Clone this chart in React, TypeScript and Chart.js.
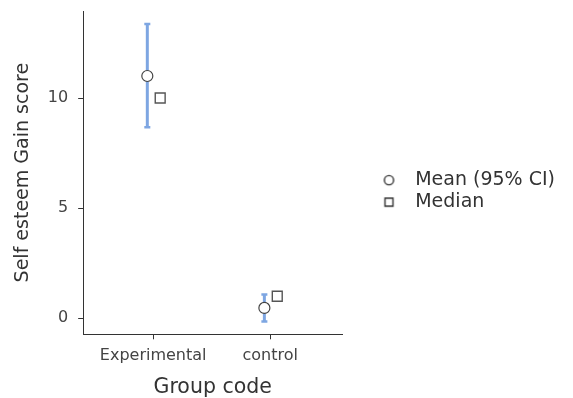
import React, { useEffect, useRef } from "react";
import { Chart, registerables } from "chart.js";

Chart.register(...registerables);

// ---- data ----
const CATEGORIES = ["Experimental", "control"];
const MEAN = [11.0, 0.47];
const CI_LOW = [8.67, -0.15];
const CI_HIGH = [13.36, 1.08];
const MEDIAN = [10, 1];
const Y_TICKS = [0, 5, 10];
const SERIES_LABELS = ["Mean (95% CI)", "Median"];

// dodge of the two markers around each category (in category units)
const MEAN_DODGE = -0.05;
const MEDIAN_DODGE = 0.06;

const FONT = "'DejaVu Sans', 'Liberation Sans', Arial, sans-serif";
const TEXT = "#333333";
const TICK_TEXT = "#444444";
const AXIS = "#333333";
const CI_COLOR = "#7ea6e2";

function makeMarker(kind: "circle" | "rect"): HTMLCanvasElement {
  const c = document.createElement("canvas");
  c.width = 42;
  c.height = 14;
  const ctx = c.getContext("2d")!;
  const cx = 34.5;
  const cy = 7;
  ctx.fillStyle = "#ffffff";
  ctx.strokeStyle = "#333333";
  ctx.lineWidth = 1.4;
  ctx.beginPath();
  if (kind === "circle") {
    ctx.arc(cx, cy, 4.6, 0, Math.PI * 2);
  } else {
    ctx.rect(cx - 4, cy - 4, 8, 8);
  }
  ctx.fill();
  ctx.stroke();
  return c;
}

const errorBarPlugin = {
  id: "errorBars",
  beforeDatasetsDraw(chart: any) {
    const { ctx, scales } = chart;
    const xs = scales.x;
    const ys = scales.y;
    ctx.save();
    ctx.strokeStyle = CI_COLOR;
    CATEGORIES.forEach((_, i) => {
      const x = xs.getPixelForValue(i + 1 + MEAN_DODGE);
      const yl = ys.getPixelForValue(CI_LOW[i]);
      const yh = ys.getPixelForValue(CI_HIGH[i]);
      ctx.lineWidth = 3;
      ctx.beginPath();
      ctx.moveTo(x, yl);
      ctx.lineTo(x, yh);
      ctx.stroke();
      ctx.lineWidth = 2.5;
      ctx.beginPath();
      ctx.moveTo(x - 3, yl);
      ctx.lineTo(x + 3, yl);
      ctx.moveTo(x - 3, yh);
      ctx.lineTo(x + 3, yh);
      ctx.stroke();
    });
    ctx.restore();
  },
};

export default function App() {
  const ref = useRef<HTMLCanvasElement>(null);

  useEffect(() => {
    if (!ref.current) return;
    const markers = [makeMarker("circle"), makeMarker("rect")];
    const chart = new Chart(ref.current, {
      type: "scatter",
      data: {
        datasets: [
          {
            label: SERIES_LABELS[0],
            data: CATEGORIES.map((_, i) => ({ x: i + 1 + MEAN_DODGE, y: MEAN[i] })),
            pointStyle: "circle",
            pointRadius: 5.5,
            pointBackgroundColor: "#ffffff",
            pointBorderColor: "#444444",
            pointBorderWidth: 1.2,
          },
          {
            label: SERIES_LABELS[1],
            data: CATEGORIES.map((_, i) => ({ x: i + 1 + MEDIAN_DODGE, y: MEDIAN[i] })),
            pointStyle: "rect",
            pointRadius: 7,
            pointBackgroundColor: "#ffffff",
            pointBorderColor: "#555555",
            pointBorderWidth: 1.4,
          },
        ],
      },
      options: {
        animation: false,
        responsive: true,
        maintainAspectRatio: false,
        layout: { padding: { top: 11, left: 7, right: 8, bottom: 0 } },
        plugins: {
          tooltip: { enabled: false },
          legend: {
            position: "right",
            fullSize: false,
            maxWidth: 400,
            title: {
              display: true,
              text: "",
              font: { size: 10, lineHeight: 1 },
              padding: { top: 27, bottom: 0 },
            },
            labels: {
              usePointStyle: true,
              pointStyleWidth: 60.5,
              boxHeight: 8,
              padding: 3,
              color: TEXT,
              font: { family: FONT, size: 19 },
              generateLabels: (ch: any) => {
                const items = Chart.defaults.plugins.legend.labels.generateLabels(ch);
                return items.map((it: any, i: number) => ({ ...it, pointStyle: markers[i] }));
              },
            },
          },
        },
        scales: {
          x: {
            type: "linear",
            min: 0.402,
            max: 2.615,
            afterBuildTicks: (axis: any) => {
              axis.ticks = CATEGORIES.map((_, i) => ({ value: i + 1 }));
            },
            ticks: {
              color: TICK_TEXT,
              font: { family: FONT, size: 16 },
              padding: 7,
              maxRotation: 0,
              callback: (v: any) => CATEGORIES[Math.round(Number(v)) - 1] ?? "",
            },
            grid: {
              display: true,
              drawOnChartArea: false,
              drawTicks: true,
              tickLength: 5,
              tickColor: AXIS,
            },
            border: { display: true, color: AXIS, width: 1 },
            title: {
              display: true,
              text: "Group code",
              color: TEXT,
              font: { family: FONT, size: 20.5, lineHeight: 1 },
              padding: { top: 5, bottom: 0 },
            },
          },
          y: {
            type: "linear",
            min: -0.727,
            max: 13.95,
            afterBuildTicks: (axis: any) => {
              axis.ticks = Y_TICKS.map((v) => ({ value: v }));
            },
            afterFit: (axis: any) => {
              axis.paddingTop = 0;
              axis.paddingBottom = 0;
            },
            ticks: {
              color: TICK_TEXT,
              font: { family: FONT, size: 16 },
              padding: 10,
            },
            grid: {
              display: true,
              drawOnChartArea: false,
              drawTicks: true,
              tickLength: 5,
              tickColor: AXIS,
            },
            border: { display: true, color: AXIS, width: 1 },
            title: {
              display: true,
              text: "Self esteem Gain score",
              color: TEXT,
              font: { family: FONT, size: 19, lineHeight: 1.2 },
              padding: { top: 5, bottom: 3 },
            },
          },
        },
      },
      plugins: [errorBarPlugin],
    });
    return () => chart.destroy();
  }, []);

  return (
    <div style={{ position: "absolute", left: 0, top: 0, width: 573, height: 398 }}>
      <canvas ref={ref} />
    </div>
  );
}
